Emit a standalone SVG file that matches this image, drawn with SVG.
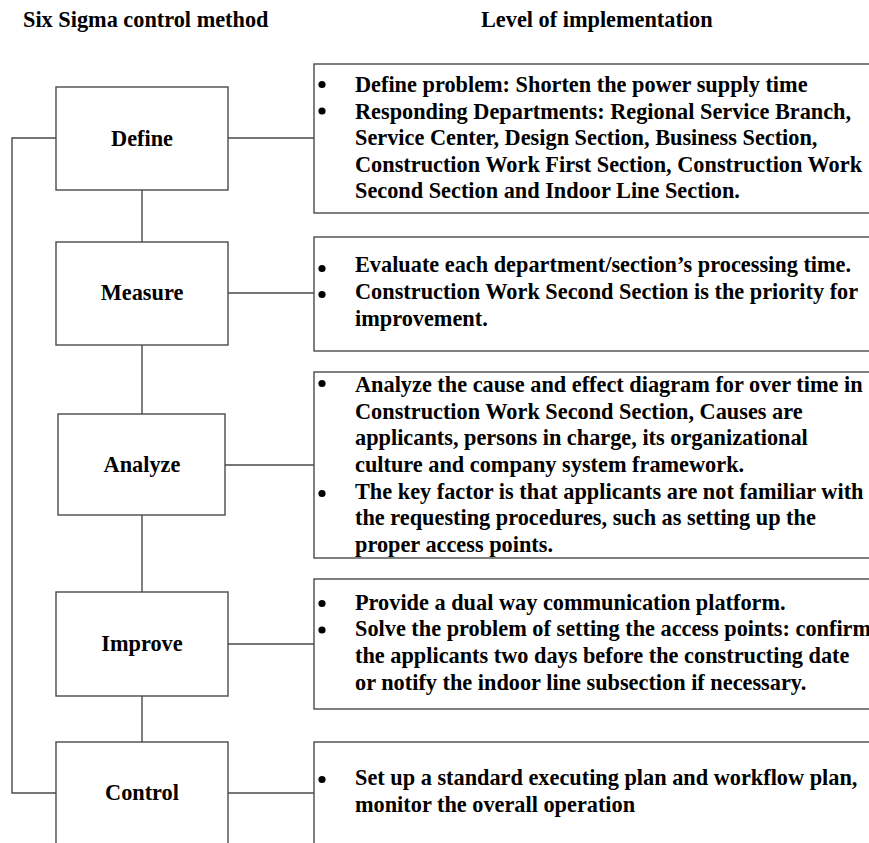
<svg xmlns="http://www.w3.org/2000/svg" width="869" height="843" viewBox="0 0 869 843">
<style>
.box{fill:#fff;stroke:#4a4a4a;stroke-width:1.4}
.ln{fill:none;stroke:#4a4a4a;stroke-width:1.4}
text{font-family:"Liberation Serif","Times New Roman",serif;font-weight:bold;font-size:22.3px;fill:#000}
.lbl{text-anchor:middle}
.b{fill:#000}
</style>
<rect width="869" height="843" fill="#fff"/>
<text x="23" y="27">Six Sigma control method</text>
<text x="481" y="27">Level of implementation</text>
<g id="connectors">
<path class="ln" d="M142,190V242M142,345V414M142,515V592M142,696V742"/>
<path class="ln" d="M228,138H314M228,293H314M225,465H314M228,644H314M228,793H314"/>
<path class="ln" d="M56,138H12V793H56"/>
</g>
<g id="define"><rect class="box" x="56" y="87" width="172" height="103"/><text class="lbl" x="142" y="146">Define</text></g>
<g id="measure"><rect class="box" x="56" y="242" width="172" height="103"/><text class="lbl" x="142" y="300">Measure</text></g>
<g id="analyze"><rect class="box" x="58" y="414" width="167" height="101"/><text class="lbl" x="142" y="472">Analyze</text></g>
<g id="improve"><rect class="box" x="56" y="592" width="172" height="104"/><text class="lbl" x="142" y="651">Improve</text></g>
<g id="control"><rect class="box" x="56" y="742" width="172" height="120"/><text class="lbl" x="142" y="800">Control</text></g>
<g id="define-detail"><rect class="box" x="314" y="64" width="580" height="149"/>
<circle class="b" cx="322" cy="84.5" r="3.6"/><circle class="b" cx="322" cy="111" r="3.6"/>
<text x="355" y="92">Define problem: Shorten the power supply time</text>
<text x="355" y="118.5">Responding Departments: Regional Service Branch,</text>
<text x="355" y="145">Service Center, Design Section, Business Section,</text>
<text x="355" y="171.5">Construction Work First Section, Construction Work</text>
<text x="355" y="198">Second Section and Indoor Line Section.</text>
</g>
<g id="measure-detail"><rect class="box" x="314" y="237" width="580" height="114"/>
<circle class="b" cx="322" cy="268.5" r="3.6"/><circle class="b" cx="322" cy="294.5" r="3.6"/>
<text x="355" y="272">Evaluate each department/section’s processing time.</text>
<text x="355" y="299">Construction Work Second Section is the priority for</text>
<text x="355" y="326">improvement.</text>
</g>
<g id="analyze-detail"><rect class="box" x="314" y="372" width="580" height="186"/>
<circle class="b" cx="322" cy="383.5" r="3.6"/><circle class="b" cx="322" cy="493.5" r="3.6"/>
<text x="355" y="392">Analyze the cause and effect diagram for over time in</text>
<text x="355" y="418.5">Construction Work Second Section, Causes are</text>
<text x="355" y="445">applicants, persons in charge, its organizational</text>
<text x="355" y="471.5">culture and company system framework.</text>
<text x="355" y="498.5">The key factor is that applicants are not familiar with</text>
<text x="355" y="525">the requesting procedures, such as setting up the</text>
<text x="355" y="551.5">proper access points.</text>
</g>
<g id="improve-detail"><rect class="box" x="314" y="579" width="580" height="130"/>
<circle class="b" cx="322" cy="603.5" r="3.6"/><circle class="b" cx="322" cy="630" r="3.6"/>
<text x="355" y="609.5">Provide a dual way communication platform.</text>
<text x="355" y="636">Solve the problem of setting the access points: confirm</text>
<text x="355" y="662.5">the applicants two days before the constructing date</text>
<text x="355" y="689.5">or notify the indoor line subsection if necessary.</text>
</g>
<g id="control-detail"><rect class="box" x="314" y="742" width="580" height="120"/>
<circle class="b" cx="322" cy="779.5" r="3.6"/>
<text x="355" y="785">Set up a standard executing plan and workflow plan,</text>
<text x="355" y="811.5">monitor the overall operation</text>
</g>
</svg>
